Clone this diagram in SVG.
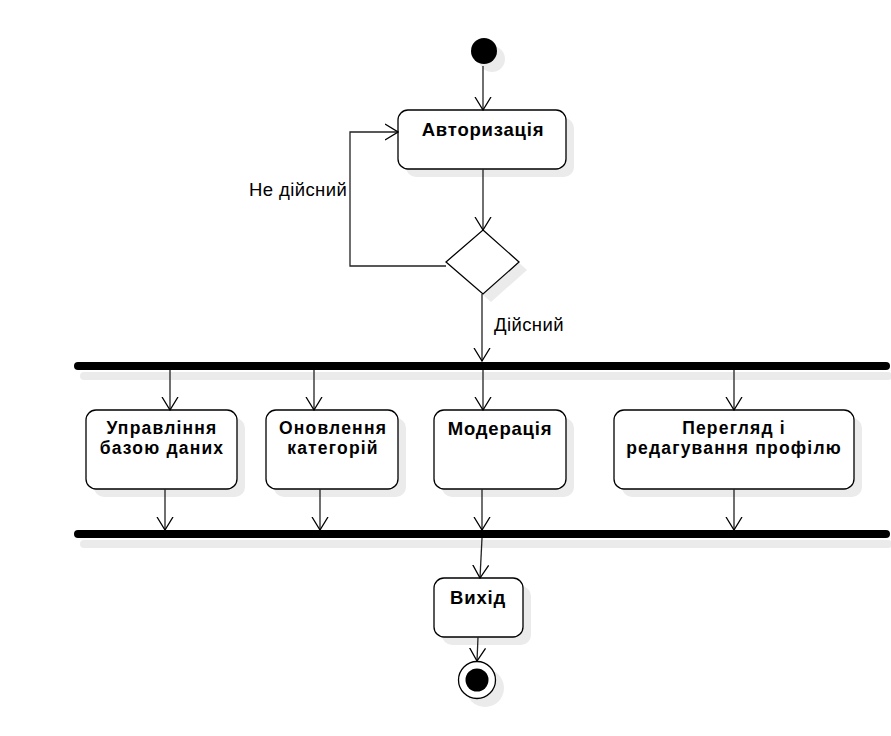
<svg xmlns="http://www.w3.org/2000/svg" width="891" height="736" viewBox="0 0 891 736">
<defs>
<marker id="arr" viewBox="0 0 14 18" refX="13" refY="9" markerWidth="14" markerHeight="18" markerUnits="userSpaceOnUse" orient="auto">
<path d="M0,1 L13,9 L0,17" fill="none" stroke="#000" stroke-width="1.3"/>
</marker>
</defs>
<style>
.shadow{fill:#ebebeb;stroke:none}
.box{fill:#fff;stroke:#000;stroke-width:1.3}
.lbl{font-family:"Liberation Sans",Arial,sans-serif;font-size:18.5px;letter-spacing:0.8px;font-weight:bold;text-anchor:middle;fill:#000}
.lbl2{font-family:"Liberation Sans",Arial,sans-serif;font-size:17.5px;letter-spacing:1.2px;font-weight:bold;text-anchor:middle;fill:#000}
.txt{font-family:"Liberation Sans",Arial,sans-serif;font-size:18.5px;letter-spacing:0.4px;fill:#000}
.edge{fill:none;stroke:#222;stroke-width:1.3;marker-end:url(#arr)}
.bar{stroke:#000;stroke-width:8;stroke-linecap:round}
.barsh{stroke:#ebebeb;stroke-width:8;stroke-linecap:round}
</style>
<rect width="891" height="736" fill="#fff"/>

<g id="start">
<circle class="shadow" cx="492" cy="59" r="13"/>
<circle cx="484" cy="51" r="13" fill="#000"/>
</g>

<g id="auth">
<rect class="shadow" x="406" y="118" width="168" height="59" rx="10"/>
<rect class="box" x="398" y="110" width="168" height="59" rx="10"/>
<text class="lbl" x="483" y="136">Авторизація</text>
</g>

<g id="decision">
<polygon class="shadow" points="491,238 527,270 491,302 454,270"/>
<polygon class="box" points="483,230 519,262 483,294 446,262"/>
</g>

<g id="fork">
<line class="barsh" x1="84" y1="376" x2="888" y2="376"/>
<line class="bar" x1="78" y1="366" x2="886" y2="366"/>
</g>

<g id="db">
<rect class="shadow" x="94" y="418" width="151" height="79" rx="10"/>
<rect class="box" x="86" y="410" width="151" height="79" rx="10"/>
<text class="lbl2" x="162" y="434">Управління</text>
<text class="lbl2" x="162" y="454">базою даних</text>
</g>

<g id="cat">
<rect class="shadow" x="274" y="418" width="132" height="79" rx="10"/>
<rect class="box" x="266" y="410" width="132" height="79" rx="10"/>
<text class="lbl2" x="333" y="434">Оновлення</text>
<text class="lbl2" x="333" y="454">категорій</text>
</g>

<g id="mod">
<rect class="shadow" x="442" y="418" width="132" height="79" rx="10"/>
<rect class="box" x="434" y="410" width="132" height="79" rx="10"/>
<text class="lbl" x="500" y="435">Модерація</text>
</g>

<g id="profile">
<rect class="shadow" x="622" y="418" width="240" height="79" rx="10"/>
<rect class="box" x="614" y="410" width="240" height="79" rx="10"/>
<text class="lbl2" x="734" y="434">Перегляд і</text>
<text class="lbl2" x="734" y="454">редагування профілю</text>
</g>

<g id="join">
<line class="barsh" x1="84" y1="544" x2="888" y2="544"/>
<line class="bar" x1="78" y1="534" x2="886" y2="534"/>
</g>

<g id="exit">
<rect class="shadow" x="442" y="586" width="89" height="59" rx="10"/>
<rect class="box" x="434" y="578" width="89" height="59" rx="10"/>
<text class="lbl" x="478" y="604">Вихід</text>
</g>

<g id="end">
<circle class="shadow" cx="485" cy="688" r="19"/>
<circle cx="477" cy="680" r="18.5" fill="#fff" stroke="#000" stroke-width="1.3"/>
<circle cx="477" cy="680" r="11.5" fill="#000"/>
</g>

<g id="connectors">
<line class="edge" x1="483" y1="66" x2="483" y2="110"/>
<line class="edge" x1="483" y1="169" x2="483" y2="230"/>
<polyline class="edge" points="446,266 350,266 350,132 398,132"/>
<line class="edge" x1="482" y1="294" x2="482" y2="361"/>
<line class="edge" x1="170" y1="370" x2="170" y2="410"/>
<line class="edge" x1="314" y1="370" x2="314" y2="410"/>
<line class="edge" x1="483" y1="370" x2="483" y2="410"/>
<line class="edge" x1="734" y1="370" x2="734" y2="410"/>
<line class="edge" x1="165" y1="489" x2="165" y2="530"/>
<line class="edge" x1="320" y1="489" x2="320" y2="530"/>
<line class="edge" x1="482" y1="489" x2="482" y2="530"/>
<line class="edge" x1="734" y1="489" x2="734" y2="530"/>
<line class="edge" x1="482" y1="538" x2="480" y2="578"/>
<line class="edge" x1="478" y1="637" x2="477" y2="661"/>
<text class="txt" x="249" y="196">Не дійсний</text>
<text class="txt" x="494" y="331">Дійсний</text>
</g>
</svg>
